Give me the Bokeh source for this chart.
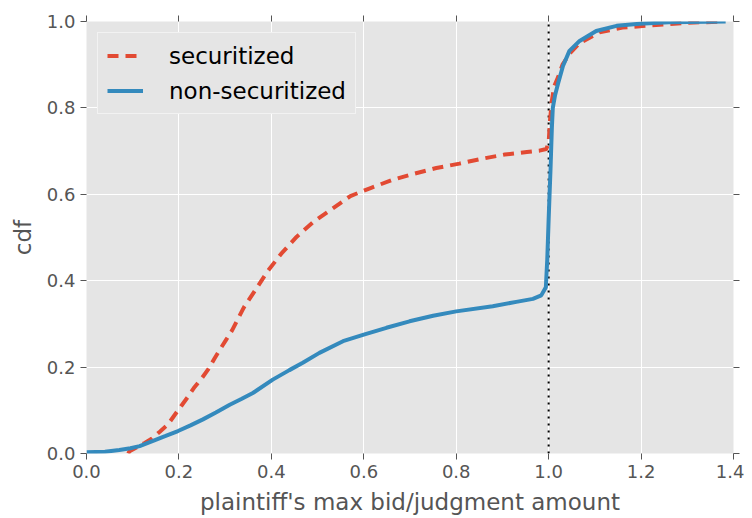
from bokeh.plotting import figure
from bokeh.models import LinearAxis, Range1d, FixedTicker, Legend, LegendItem
from bokeh.embed import file_html
from bokeh.resources import INLINE

# ---- data ----
sec_x = [0.09, 0.093, 0.11, 0.125, 0.141, 0.158, 0.176, 0.19, 0.205, 0.22, 0.234, 0.25,
         0.264, 0.277, 0.289, 0.302, 0.315, 0.338, 0.342, 0.364, 0.392, 0.421, 0.455,
         0.491, 0.531, 0.571, 0.616, 0.661, 0.71, 0.757, 0.807, 0.854, 0.905, 0.953,
         0.98, 0.995, 1.0, 1.003, 1.006, 1.012, 1.02, 1.03, 1.045, 1.067, 1.11, 1.16,
         1.21, 1.3, 1.38]
sec_y = [0.0, 0.005, 0.015, 0.024, 0.034, 0.05, 0.067, 0.088, 0.11, 0.132, 0.154, 0.175,
         0.196, 0.22, 0.241, 0.263, 0.285, 0.333, 0.341, 0.376, 0.422, 0.462, 0.502,
         0.536, 0.566, 0.596, 0.615, 0.633, 0.648, 0.661, 0.671, 0.682, 0.692, 0.698,
         0.701, 0.705, 0.719, 0.773, 0.81, 0.85, 0.87, 0.9, 0.925, 0.95, 0.975, 0.986,
         0.99, 0.997, 1.0]

non_x = [0.0, 0.04, 0.071, 0.095, 0.115, 0.144, 0.17, 0.198, 0.225, 0.252, 0.28, 0.31,
         0.335, 0.36, 0.403, 0.439, 0.468, 0.504, 0.555, 0.60, 0.649, 0.699, 0.75, 0.80,
         0.879, 0.93, 0.966, 0.984, 0.994, 0.997, 1.0, 1.004, 1.007, 1.009, 1.014, 1.02,
         1.031, 1.045, 1.067, 1.103, 1.147, 1.197, 1.26, 1.383]
non_y = [0.003, 0.004, 0.008, 0.012, 0.017, 0.029, 0.04, 0.052, 0.065, 0.079, 0.095, 0.113,
         0.126, 0.14, 0.171, 0.193, 0.21, 0.233, 0.26, 0.275, 0.291, 0.306, 0.319, 0.329,
         0.341, 0.351, 0.358, 0.366, 0.385, 0.449, 0.542, 0.657, 0.755, 0.80, 0.83, 0.855,
         0.897, 0.932, 0.955, 0.978, 0.99, 0.995, 0.998, 1.0]

ref_x = 1.0

x_ticks = [0.0, 0.2, 0.4, 0.6, 0.8, 1.0, 1.2, 1.4]
x_tick_labels = ["0.0", "0.2", "0.4", "0.6", "0.8", "1.0", "1.2", "1.4"]
y_ticks = [0.0, 0.2, 0.4, 0.6, 0.8, 1.0]
y_tick_labels = ["0.0", "0.2", "0.4", "0.6", "0.8", "1.0"]

FONT = "DejaVu Sans"
TICK_COLOR = "#555555"

p = figure(width=744, height=517, output_backend="svg", toolbar_location=None,
           x_range=Range1d(0, 1.4), y_range=Range1d(0, 1.0),
           min_border_left=86, min_border_right=11, min_border_top=21, min_border_bottom=64)
p.background_fill_color = "#E5E5E5"
p.border_fill_color = "white"
p.outline_line_color = None

p.xgrid.grid_line_color = "white"
p.ygrid.grid_line_color = "white"
p.xgrid.grid_line_width = 1
p.ygrid.grid_line_width = 1
p.xgrid.ticker = FixedTicker(ticks=x_ticks)
p.ygrid.ticker = FixedTicker(ticks=y_ticks)

def style_axis(ax, ticks, labels, show_labels=True):
    ax.ticker = FixedTicker(ticks=ticks)
    ax.major_label_overrides = {t: l for t, l in zip(ticks, labels)}
    ax.axis_line_color = None
    ax.major_tick_line_color = TICK_COLOR
    ax.major_tick_in = 0
    ax.major_tick_out = 6
    ax.minor_tick_line_color = None
    ax.major_label_text_font = FONT
    ax.major_label_text_color = TICK_COLOR
    ax.major_label_text_font_size = "18px" if show_labels else "0px"
    ax.major_label_standoff = 5
    ax.axis_label_text_font = FONT
    ax.axis_label_text_color = TICK_COLOR
    ax.axis_label_text_font_size = "23px"
    ax.axis_label_text_font_style = "normal"

xa = p.xaxis[0]
ya = p.yaxis[0]
style_axis(xa, x_ticks, x_tick_labels)
style_axis(ya, y_ticks, y_tick_labels)
xa.axis_label = "plaintiff's max bid/judgment amount"
ya.axis_label = "cdf"
xa.axis_label_standoff = 8
ya.axis_label_standoff = 8

top = LinearAxis()
style_axis(top, x_ticks, ["" for _ in x_ticks], show_labels=False)
p.add_layout(top, "above")
right = LinearAxis()
style_axis(right, y_ticks, ["" for _ in y_ticks], show_labels=False)
p.add_layout(right, "right")

# dotted reference line at x = 1
p.line([ref_x, ref_x], [0, 1], line_color="black", line_width=2, line_dash="2 5")

r_sec = p.line(sec_x, sec_y, line_color="#E24A33", line_width=4, line_dash="11 7")
r_non = p.line(non_x, non_y, line_color="#348ABD", line_width=4)

legend = Legend(items=[LegendItem(label="securitized", renderers=[r_sec]),
                       LegendItem(label="non-securitized", renderers=[r_non])],
                location="top_left")
legend.margin = 11
legend.padding = 9
legend.spacing = 8
legend.glyph_width = 36
legend.glyph_height = 27
legend.label_height = 27
legend.label_standoff = 26
legend.label_text_font = FONT
legend.label_text_font_size = "23px"
legend.label_text_color = "black"
legend.background_fill_color = "#E5E5E5"
legend.background_fill_alpha = 1.0
legend.border_line_color = "white"
legend.border_line_width = 1
p.add_layout(legend, "center")

open("out.html", "w").write(file_html(p, INLINE))
